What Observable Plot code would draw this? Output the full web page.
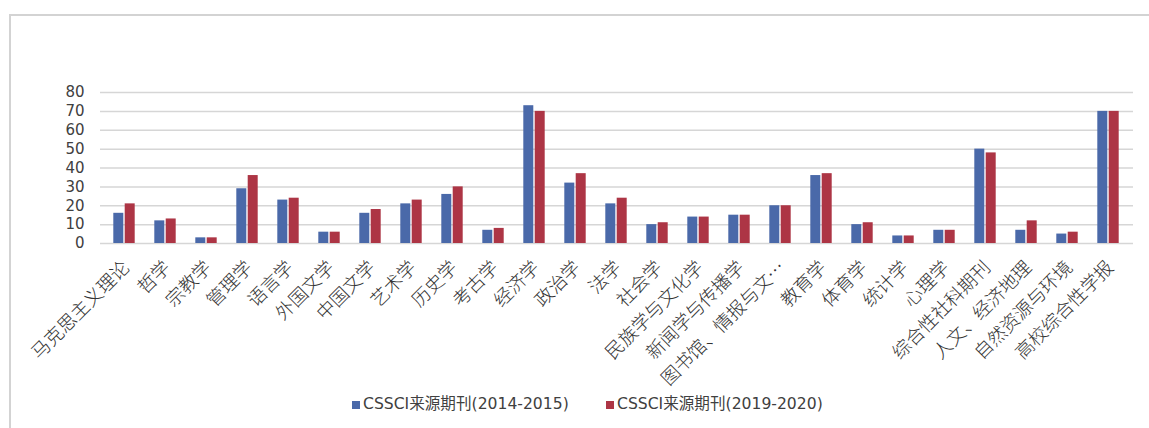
<!DOCTYPE html>
<html>
<head>
<meta charset="utf-8">
<script src="https://cdn.jsdelivr.net/npm/d3@7"></script>
<script src="https://cdn.jsdelivr.net/npm/@observablehq/plot@0.6"></script>
<style>
  html, body { margin: 0; padding: 0; background: #fff; }
  #wrap { position: relative; width: 1149px; height: 428px; overflow: hidden; }
  #frame { position: absolute; left: 9px; top: 14px; width: 1150px; height: 420px;
           border-top: 2px solid #d3d3d3; border-left: 2px solid #d3d3d3; box-sizing: border-box; }
  #chart { position: absolute; left: 0; top: 0; }
  #legend { position: absolute; left: 0; top: 394px; width: 1149px; height: 20px;
            font-family: "DejaVu Sans", "Noto Sans CJK SC", sans-serif; font-size: 15.6px; color: #404040; }
  .item { position: absolute; top: 0; line-height: 20px; white-space: nowrap; }
  .sw { display: inline-block; width: 8px; height: 8px; margin-right: 3px; vertical-align: 0px; }
</style>
</head>
<body>
<div id="wrap">
  <div id="frame"></div>
  <div id="chart"></div>
  <div id="legend"></div>
</div>
<script>
const categories = ["马克思主义理论","哲学","宗教学","管理学","语言学","外国文学","中国文学","艺术学","历史学","考古学","经济学","政治学","法学","社会学","民族学与文化学","新闻学与传播学","图书馆、情报与文…","教育学","体育学","统计学","心理学","综合性社科期刊","人文、经济地理","自然资源与环境","高校综合性学报"];
const seriesNames = ["CSSCI来源期刊(2014-2015)", "CSSCI来源期刊(2019-2020)"];
const values2014 = [16,12,3,29,23,6,16,21,26,7,73,32,21,10,14,15,20,36,10,4,7,50,7,5,70];
const values2019 = [21,13,3,36,24,6,18,23,30,8,70,37,24,11,14,15,20,37,11,4,7,48,12,6,70];
const seriesColors = ["#4a69a9", "#ad3545"];
const yTicks = [0,10,20,30,40,50,60,70,80];

const rows2014 = categories.map((c, i) => ({category: c, series: seriesNames[0], value: values2014[i]}));
const rows2019 = categories.map((c, i) => ({category: c, series: seriesNames[1], value: values2019[i]}));

const chart = Plot.plot({
  width: 1149,
  height: 400,
  marginLeft: 100,
  marginRight: 16,
  marginTop: 92,
  marginBottom: 157,
  style: {background: "transparent", fontFamily: "'DejaVu Sans', 'Noto Sans CJK SC', sans-serif", color: "#333"},
  x: {domain: categories, paddingInner: 0.753, paddingOuter: 0.3765, label: null},
  y: {domain: [0, 80], ticks: yTicks, label: null},
  color: {domain: seriesNames, range: seriesColors},
  marks: [
    Plot.gridY(yTicks, {stroke: "#d6d6d6", strokeOpacity: 1, strokeWidth: 1.5}),
    Plot.barY(rows2014, {x: "category", y: "value", fill: "series", dx: -5.7}),
    Plot.barY(rows2019, {x: "category", y: "value", fill: "series", dx: 5.7}),
    Plot.axisY(yTicks, {tickSize: 0, tickPadding: 16, fontSize: 15, fill: "#404040"}),
    Plot.axisX({tickRotate: -45, tickSize: 0, tickPadding: 21, dx: 2, fontSize: 18.5, fill: "#333",
                fontFamily: "'Noto Sans CJK SC', sans-serif", fontWeight: 300, textOverflow: null, lineWidth: Infinity})
  ]
});
document.getElementById("chart").appendChild(chart);

const legend = document.getElementById("legend");
const lefts = [352, 606];
seriesNames.forEach((name, i) => {
  const item = document.createElement("div");
  item.className = "item";
  item.style.left = lefts[i] + "px";
  const sw = document.createElement("span");
  sw.className = "sw";
  sw.style.background = seriesColors[i];
  item.appendChild(sw);
  item.appendChild(document.createTextNode(name));
  legend.appendChild(item);
});
</script>
</body>
</html>
